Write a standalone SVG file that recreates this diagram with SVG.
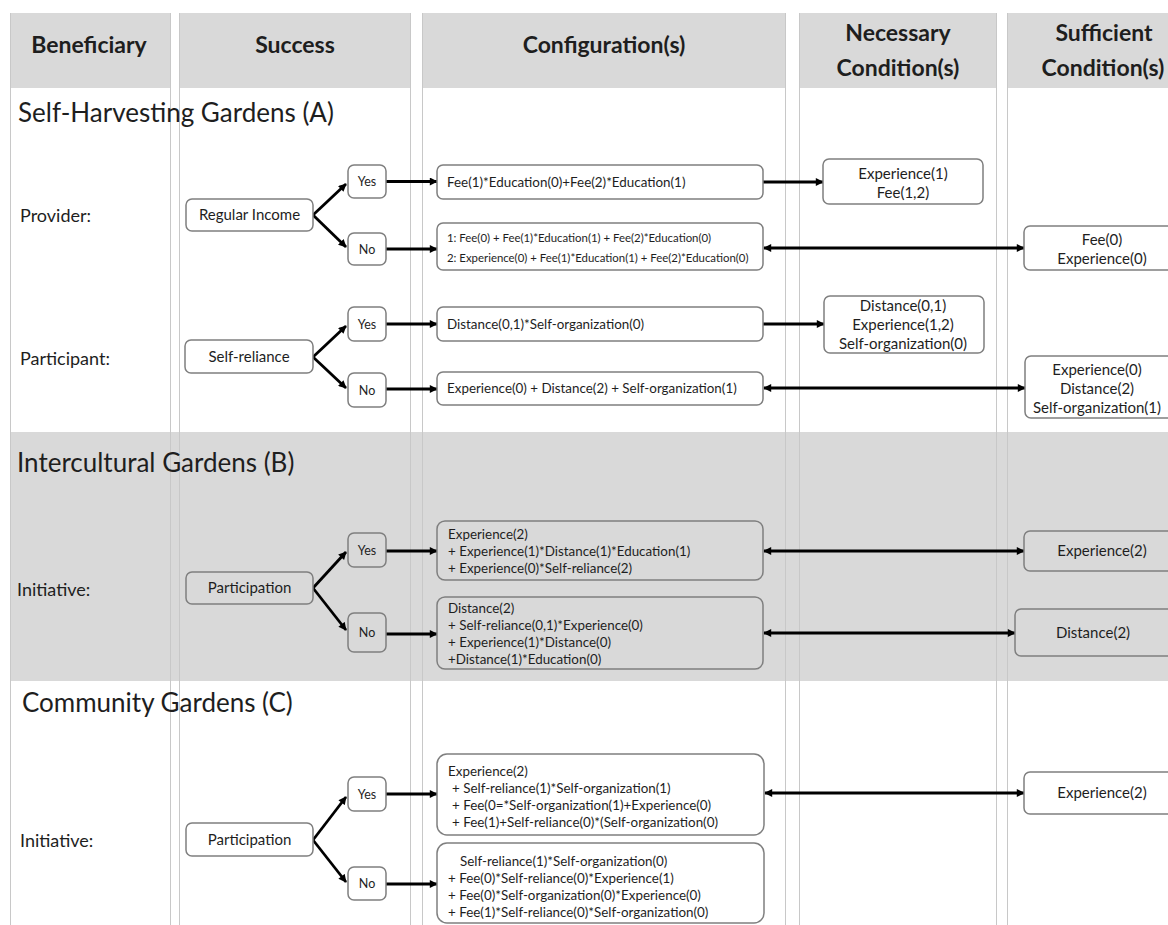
<svg xmlns="http://www.w3.org/2000/svg" width="1168" height="925" viewBox="0 0 1168 925">
<defs>
<marker id="ah" viewBox="0 0 10 10" refX="9" refY="5" markerWidth="9" markerHeight="8" markerUnits="userSpaceOnUse" orient="auto-start-reverse">
<path d="M0,0 L10,5 L0,10 z" fill="#000"/>
</marker>
<style>
text{font-family:Lato,"Liberation Sans",sans-serif;fill:#1e1e1e}
.hdr{font-size:23px;font-weight:bold;text-anchor:middle}
.sec{font-size:26px}
.lbl{font-size:18px}
.nd{font-size:15px;text-anchor:middle}
.yn{font-size:12.5px;text-anchor:middle}
.cfg{font-size:13.4px}
.cfgs{font-size:11.4px}
.cond{font-size:15px;text-anchor:middle}
.box{fill:#fff;stroke:#7f7f7f;stroke-width:1.5}
.boxg{fill:#d9d9d9;stroke:#7f7f7f;stroke-width:1.5}
.grid{stroke:#c8c8c8;stroke-width:1}
.cn{stroke:#000;stroke-width:2.8;fill:none}
</style>
</defs>
<rect width="1168" height="925" fill="#fff"/>
<g id="background">
<rect x="10" y="13" width="160" height="75" fill="#d9d9d9"/>
<rect x="179" y="13" width="231" height="75" fill="#d9d9d9"/>
<rect x="422" y="13" width="363" height="75" fill="#d9d9d9"/>
<rect x="799" y="13" width="198" height="75" fill="#d9d9d9"/>
<rect x="1007" y="13" width="161" height="75" fill="#d9d9d9"/>
<rect x="11" y="432" width="1157" height="249" fill="#d9d9d9"/>
<g class="grid">
<line x1="10.5" y1="13" x2="10.5" y2="925"/>
<line x1="170.5" y1="13" x2="170.5" y2="925"/>
<line x1="179.5" y1="13" x2="179.5" y2="925"/>
<line x1="410.5" y1="13" x2="410.5" y2="925"/>
<line x1="422.5" y1="13" x2="422.5" y2="925"/>
<line x1="785.5" y1="13" x2="785.5" y2="925"/>
<line x1="799.5" y1="13" x2="799.5" y2="925"/>
<line x1="996.5" y1="13" x2="996.5" y2="925"/>
<line x1="1007.5" y1="13" x2="1007.5" y2="925"/>
</g>
</g>
<g id="headers">
<text class="hdr" x="89" y="53.3">Beneficiary</text>
<text class="hdr" x="295" y="53.3">Success</text>
<text class="hdr" x="604" y="53.3">Configuration(s)</text>
<text class="hdr" x="898" y="41.3">Necessary</text>
<text class="hdr" x="898" y="76.3">Condition(s)</text>
<text class="hdr" x="1104" y="41.3">Sufficient</text>
<text class="hdr" x="1103" y="76.3">Condition(s)</text>
</g>
<g id="sections">
<text class="sec" x="18" y="122.4">Self-Harvesting Gardens (A)</text>
<text class="sec" x="17" y="472.4">Intercultural Gardens (B)</text>
<text class="sec" x="22" y="712.4">Community Gardens (C)</text>
<text class="lbl" x="20" y="221.5">Provider:</text>
<text class="lbl" x="20" y="364.5">Participant:</text>
<text class="lbl" x="17" y="595.5">Initiative:</text>
<text class="lbl" x="20" y="846.5">Initiative:</text>
</g>
<g id="connectors" class="cn">
<line x1="313" y1="215" x2="346" y2="184" marker-end="url(#ah)"/>
<line x1="313" y1="215" x2="346" y2="247" marker-end="url(#ah)"/>
<line x1="386" y1="181.5" x2="437" y2="181.5" marker-end="url(#ah)"/>
<line x1="386" y1="249" x2="437" y2="249" marker-end="url(#ah)"/>
<line x1="763" y1="182" x2="823" y2="182" marker-end="url(#ah)"/>
<line x1="764" y1="248" x2="1024" y2="248" marker-start="url(#ah)" marker-end="url(#ah)"/>
<line x1="313" y1="357" x2="346" y2="326" marker-end="url(#ah)"/>
<line x1="313" y1="357" x2="346" y2="388" marker-end="url(#ah)"/>
<line x1="386" y1="324" x2="437" y2="324" marker-end="url(#ah)"/>
<line x1="386" y1="389" x2="437" y2="389" marker-end="url(#ah)"/>
<line x1="763" y1="324" x2="824" y2="324" marker-end="url(#ah)"/>
<line x1="764" y1="388" x2="1025" y2="388" marker-start="url(#ah)" marker-end="url(#ah)"/>
<line x1="313" y1="588" x2="346" y2="552" marker-end="url(#ah)"/>
<line x1="313" y1="588" x2="346" y2="630" marker-end="url(#ah)"/>
<line x1="386" y1="551" x2="437" y2="551" marker-end="url(#ah)"/>
<line x1="386" y1="634" x2="437" y2="634" marker-end="url(#ah)"/>
<line x1="764" y1="551" x2="1024" y2="551" marker-start="url(#ah)" marker-end="url(#ah)"/>
<line x1="764" y1="633" x2="1015" y2="633" marker-start="url(#ah)" marker-end="url(#ah)"/>
<line x1="313" y1="840" x2="346" y2="797" marker-end="url(#ah)"/>
<line x1="313" y1="840" x2="346" y2="882" marker-end="url(#ah)"/>
<line x1="386" y1="794" x2="437" y2="794" marker-end="url(#ah)"/>
<line x1="386" y1="884" x2="437" y2="884" marker-end="url(#ah)"/>
<line x1="765" y1="793" x2="1024" y2="793" marker-start="url(#ah)" marker-end="url(#ah)"/>
</g>
<g id="n-regular-income"><rect class="box" x="186" y="199" width="127" height="32" rx="6"/><text class="nd" x="249.5" y="220.4">Regular Income</text></g>
<g id="n-yes1"><rect class="box" x="348" y="165" width="38" height="33" rx="6"/><text class="yn" x="367" y="186">Yes</text></g>
<g id="n-no1"><rect class="box" x="348" y="233" width="38" height="32" rx="6"/><text class="yn" x="367" y="253.5">No</text></g>
<g id="n-cfg-a1"><rect class="box" x="437" y="165" width="326" height="34" rx="6"/><text class="cfg" x="447" y="186.8">Fee(1)*Education(0)+Fee(2)*Education(1)</text></g>
<g id="n-cfg-a2"><rect class="box" x="437" y="223" width="326" height="47" rx="6"/><text class="cfgs" x="447" y="242">1: Fee(0) + Fee(1)*Education(1) + Fee(2)*Education(0)</text><text class="cfgs" x="447" y="262">2: Experience(0) + Fee(1)*Education(1) + Fee(2)*Education(0)</text></g>
<g id="n-nec-a1"><rect class="box" x="823" y="159" width="160" height="45" rx="6"/><text class="cond" x="903" y="179.4">Experience(1)</text><text class="cond" x="903" y="198.4">Fee(1,2)</text></g>
<g id="n-suf-a1"><rect class="box" x="1024" y="226" width="156" height="44" rx="6"/><text class="cond" x="1102" y="245.4">Fee(0)</text><text class="cond" x="1102" y="264.4">Experience(0)</text></g>
<g id="n-self-reliance"><rect class="box" x="185" y="340" width="128" height="33" rx="6"/><text class="nd" x="249" y="362.4">Self-reliance</text></g>
<g id="n-yes2"><rect class="box" x="348" y="307" width="38" height="34" rx="6"/><text class="yn" x="367" y="328.5">Yes</text></g>
<g id="n-no2"><rect class="box" x="348" y="373" width="38" height="34" rx="6"/><text class="yn" x="367" y="394.5">No</text></g>
<g id="n-cfg-a3"><rect class="box" x="437" y="307" width="326" height="34" rx="6"/><text class="cfg" x="447" y="328.8">Distance(0,1)*Self-organization(0)</text></g>
<g id="n-cfg-a4"><rect class="box" x="437" y="372" width="326" height="33" rx="6"/><text class="cfg" x="447" y="393.3">Experience(0) + Distance(2) + Self-organization(1)</text></g>
<g id="n-nec-a2"><rect class="box" x="824" y="296" width="160" height="57" rx="6"/><text class="cond" x="903" y="311.4">Distance(0,1)</text><text class="cond" x="903" y="330.4">Experience(1,2)</text><text class="cond" x="903" y="349.4">Self-organization(0)</text></g>
<g id="n-suf-a2"><rect class="box" x="1025" y="356" width="150" height="62" rx="6"/><text class="cond" x="1097" y="375.4">Experience(0)</text><text class="cond" x="1097" y="394.4">Distance(2)</text><text class="cond" x="1097" y="413.4">Self-organization(1)</text></g>
<g id="n-participation-b"><rect class="boxg" x="186" y="572" width="127" height="32" rx="6"/><text class="nd" x="249.5" y="593.4">Participation</text></g>
<g id="n-yes3"><rect class="boxg" x="348" y="533" width="38" height="34" rx="6"/><text class="yn" x="367" y="554.5">Yes</text></g>
<g id="n-no3"><rect class="boxg" x="348" y="613" width="38" height="39" rx="6"/><text class="yn" x="367" y="637">No</text></g>
<g id="n-cfg-b1"><rect class="boxg" x="437" y="521" width="326" height="59" rx="8"/><text class="cfg" x="448" y="538.8">Experience(2)</text><text class="cfg" x="448" y="555.8">+ Experience(1)*Distance(1)*Education(1)</text><text class="cfg" x="448" y="572.8">+ Experience(0)*Self-reliance(2)</text></g>
<g id="n-cfg-b2"><rect class="boxg" x="437" y="597" width="326" height="72" rx="8"/><text class="cfg" x="448" y="612.8">Distance(2)</text><text class="cfg" x="448" y="629.8">+ Self-reliance(0,1)*Experience(0)</text><text class="cfg" x="448" y="646.8">+ Experience(1)*Distance(0)</text><text class="cfg" x="448" y="663.8">+Distance(1)*Education(0)</text></g>
<g id="n-suf-b1"><rect class="boxg" x="1024" y="531" width="156" height="40" rx="6"/><text class="cond" x="1102" y="556.4">Experience(2)</text></g>
<g id="n-suf-b2"><rect class="boxg" x="1015" y="609" width="165" height="47" rx="6"/><text class="cond" x="1093" y="638.4">Distance(2)</text></g>
<g id="n-participation-c"><rect class="box" x="186" y="823" width="127" height="33" rx="6"/><text class="nd" x="249.5" y="845.4">Participation</text></g>
<g id="n-yes4"><rect class="box" x="348" y="777" width="38" height="34" rx="6"/><text class="yn" x="367" y="798.5">Yes</text></g>
<g id="n-no4"><rect class="box" x="348" y="867" width="38" height="33" rx="6"/><text class="yn" x="367" y="888">No</text></g>
<g id="n-cfg-c1"><rect class="box" x="437" y="754" width="327" height="81" rx="10"/><text class="cfg" x="448" y="775.8">Experience(2)</text><text class="cfg" x="452" y="792.8">+ Self-reliance(1)*Self-organization(1)</text><text class="cfg" x="452" y="809.8">+ Fee(0=*Self-organization(1)+Experience(0)</text><text class="cfg" x="452" y="826.8">+ Fee(1)+Self-reliance(0)*(Self-organization(0)</text></g>
<g id="n-cfg-c2"><rect class="box" x="437" y="843" width="327" height="80" rx="10"/><text class="cfg" x="460" y="865.8">Self-reliance(1)*Self-organization(0)</text><text class="cfg" x="448" y="882.8">+ Fee(0)*Self-reliance(0)*Experience(1)</text><text class="cfg" x="448" y="899.8">+ Fee(0)*Self-organization(0)*Experience(0)</text><text class="cfg" x="448" y="916.8">+ Fee(1)*Self-reliance(0)*Self-organization(0)</text></g>
<g id="n-suf-c1"><rect class="box" x="1024" y="772" width="156" height="42" rx="6"/><text class="cond" x="1102" y="798.4">Experience(2)</text></g>
</svg>
